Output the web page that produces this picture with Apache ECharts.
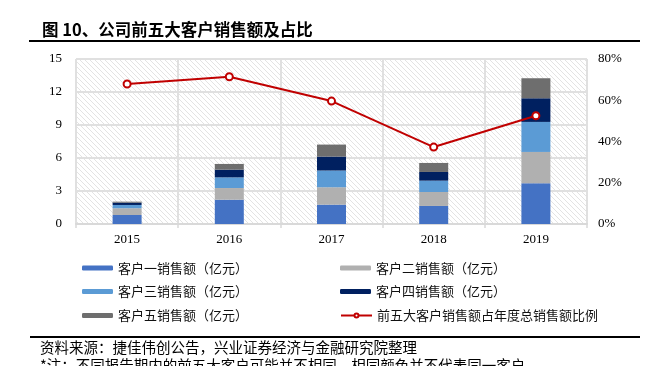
<!DOCTYPE html>
<html>
<head>
<meta charset="utf-8">
<script src="https://cdn.jsdelivr.net/npm/echarts@6/dist/echarts.min.js"></script>
<style>
html,body{margin:0;padding:0;background:#fff;}
#c{width:656px;height:366px;}
</style>
</head>
<body>
<div id="c"></div>
<script>
const years = ['2015', '2016', '2017', '2018', '2019'];
const client1 = [0.82, 2.21, 1.76, 1.64, 3.70];
const client2 = [0.61, 1.06, 1.58, 1.27, 2.85];
const client3 = [0.30, 0.97, 1.52, 1.03, 2.73];
const client4 = [0.21, 0.70, 1.27, 0.79, 2.15];
const client5 = [0.09, 0.52, 1.09, 0.82, 1.82];
const top5Share = [67.9, 71.4, 59.6, 37.3, 52.5];
const leftTicks = { min: 0, max: 15, interval: 3 };
const rightTicks = { min: 0, max: 80, interval: 20 };

const names = ['客户一销售额（亿元）', '客户二销售额（亿元）', '客户三销售额（亿元）',
  '客户四销售额（亿元）', '客户五销售额（亿元）', '前五大客户销售额占年度总销售额比例'];
const colors = ['#4472C4', '#B0B0B0', '#5B9BD5', '#002060', '#6E6E6E'];

// hatch pattern
const pc = document.createElement('canvas');
pc.width = 5; pc.height = 5;
const pctx = pc.getContext('2d');
pctx.fillStyle = '#ffffff';
pctx.fillRect(0, 0, 5, 5);
pctx.strokeStyle = '#e3e3e3';
pctx.lineWidth = 1;
pctx.beginPath();
pctx.moveTo(-1, -1); pctx.lineTo(6, 6);
pctx.moveTo(-1, 4); pctx.lineTo(1, 6);
pctx.moveTo(4, -1); pctx.lineTo(6, 1);
pctx.stroke();

const chart = echarts.init(document.getElementById('c'));
const serif = '"Liberation Serif", "Times New Roman", serif';
const cjk = '"Noto Sans CJK SC", sans-serif';

const barData = [client1, client2, client3, client4, client5];
const series = barData.map((d, i) => ({
  name: names[i], type: 'bar', stack: 'total', data: d, barWidth: 29,
  itemStyle: { color: colors[i] }, yAxisIndex: 0
}));
series.push({
  name: names[5], type: 'line', data: top5Share, yAxisIndex: 1,
  symbol: 'circle', symbolSize: 7,
  lineStyle: { color: '#C00000', width: 2 },
  itemStyle: { color: '#ffffff', borderColor: '#C00000', borderWidth: 2 },
  z: 5
});

function legendAt(name, left, centerY) {
  return {
    data: [name], left: left, top: centerY - 8, itemWidth: 31, itemHeight: 5,
    itemGap: 0, padding: 0,
    textStyle: { fontFamily: cjk, fontSize: 13, color: '#111', lineHeight: 16 }
  };
}

chart.setOption({
  animation: false,
  grid: {
    left: 76, right: 69, top: 59, bottom: 142, show: true,
    backgroundColor: { image: pc, repeat: 'repeat' }, borderWidth: 0
  },
  title: {
    text: '图 10、公司前五大客户销售额及占比', left: 37, top: 16,
    textStyle: { fontFamily: cjk, fontSize: 16.5, fontWeight: 'bold', color: '#000' }
  },
  legend: [
    legendAt(names[0], 82, 268),
    legendAt(names[2], 82, 291.5),
    legendAt(names[4], 82, 315.5),
    legendAt(names[1], 340, 268),
    legendAt(names[3], 340, 291.5),
    legendAt(names[5], 340, 315.5)
  ],
  xAxis: {
    type: 'category', data: years,
    axisLine: { lineStyle: { color: '#d9d9d9', width: 2 } },
    axisTick: { show: true, length: 4, lineStyle: { color: '#d9d9d9', width: 1.5 } },
    splitLine: { show: true, lineStyle: { color: '#e0e0e0', width: 2 } },
    axisLabel: { fontFamily: serif, fontSize: 13, color: '#000', margin: 9 }
  },
  yAxis: [{
    type: 'value', min: leftTicks.min, max: leftTicks.max, interval: leftTicks.interval,
    axisLine: { show: false }, axisTick: { show: false },
    splitLine: { lineStyle: { color: '#e0e0e0', width: 2 } },
    axisLabel: { fontFamily: serif, fontSize: 13, color: '#000', margin: 14 }
  }, {
    type: 'value', min: rightTicks.min, max: rightTicks.max, interval: rightTicks.interval,
    axisLine: { show: false }, axisTick: { show: false }, splitLine: { show: false },
    axisLabel: { fontFamily: serif, fontSize: 13, color: '#000', margin: 11, formatter: '{value}%' }
  }],
  graphic: [
    { type: 'line', shape: { x1: 29, y1: 41, x2: 640, y2: 41 }, style: { stroke: '#000', lineWidth: 2 } },
    { type: 'line', shape: { x1: 30, y1: 337, x2: 640, y2: 337 }, style: { stroke: '#000', lineWidth: 2 } },
    { type: 'text', left: 40, top: 340, style: { text: '资料来源：捷佳伟创公告，兴业证券经济与金融研究院整理', font: '14.5px ' + cjk, fill: '#000' } },
    { type: 'text', left: 40, top: 358, style: { text: '*注：不同报告期内的前五大客户可能并不相同，相同颜色并不代表同一客户', font: '14.5px ' + cjk, fill: '#000' } }
  ],
  series: series
});
</script>
</body>
</html>
